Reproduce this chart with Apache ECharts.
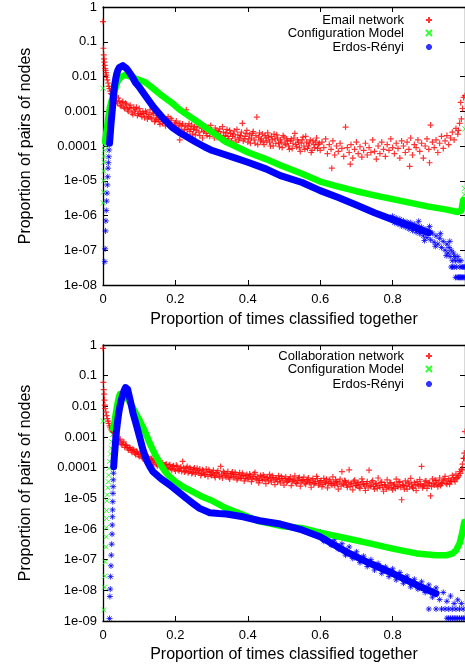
<!DOCTYPE html>
<html><head><meta charset="utf-8">
<script src="https://cdn.jsdelivr.net/npm/echarts/dist/echarts.min.js"></script>
<style>html,body{margin:0;padding:0;background:#fff}#c{width:465px;height:667px}</style>
</head><body><div id="c"></div>
<script>
// ---------- texts / ticks ----------
const xTitle = 'Proportion of times classified together';
const yTitle = 'Proportion of pairs of nodes';
const xTickLabels = ['0','0.2','0.4','0.6','0.8',''];
const yTickLabelsTop = ['1','0.1','0.01','0.001','0.0001','1e-05','1e-06','1e-07','1e-08'];
const yTickLabelsBottom = ['1','0.1','0.01','0.001','0.0001','1e-05','1e-06','1e-07','1e-08','1e-09'];
const legendTop = ['Email network','Configuration Model','Erdos-Rényi'];
const legendBottom = ['Collaboration network','Configuration Model','Erdos-Rényi'];

// ---------- top panel: email network ----------
const emailNet = [[0,3.8e-1],[.001,6.5e-2],[.002,4.2e-2],[.003,3.2e-2],[.004,2.6e-2],[.005,2.1e-2],[.006,1.7e-2],[.007,1.5e-2],[.008,1.3e-2],[.009,1.1e-2],[.010,9.5e-3],[.012,8e-3],[.014,6.5e-3],[.016,5.2e-3],[.018,4.5e-3],[.020,3.8e-3],[.022,3.2e-3],
[.025,3.0e-3],[.030,2.2e-3],[.035,2.6e-3],[.040,1.7e-3],[.045,2.0e-3],[.050,1.4e-3],[.055,1.9e-3],[.060,1.2e-3],[.065,1.6e-3],[.070,1.0e-3],[.075,1.5e-3],[.080,9.0e-4],[.085,1.3e-3],[.090,1.1e-3],[.095,7.5e-4],[.100,1.2e-3],[.105,8.0e-4],[.110,1.0e-3],[.115,6.5e-4],[.120,9.0e-4],[.125,7.0e-4],[.130,1.1e-3],[.135,6.0e-4],[.140,8.5e-4],[.145,5.5e-4],[.150,7.5e-4],[.155,5.0e-4],[.160,8.0e-4],[.165,4.5e-4],[.170,6.5e-4],[.175,5.0e-4],[.180,7.0e-4],[.185,3.8e-4],[.190,5.5e-4],[.195,3.6e-4],[.200,4.6e-4],[.205,2.9e-4],[.210,4.0e-4],[.212,1.5e-4],[.215,2.5e-4],[.220,4.3e-4],[.225,3.0e-4],[.230,1.1e-3],[.235,3.6e-4],[.240,2.6e-4],[.245,4.0e-4],[.250,3.0e-4],[.255,2.1e-4],[.260,3.5e-4],[.262,1.2e-4],[.265,2.5e-4],[.270,3.9e-4],[.275,1.7e-4],[.280,2.9e-4],[.285,2.3e-4],[.290,3.4e-4],[.295,1.9e-4],[.300,2.9e-4],[.305,2.2e-4],[.310,3.3e-4],[.315,1.8e-4],[.320,2.6e-4],[.325,2.0e-4],[.330,3.6e-4],[.335,1.6e-4],[.340,2.4e-4],[.345,1.9e-4],[.350,2.8e-4],[.355,1.4e-4],[.360,2.2e-4],[.365,1.7e-4],[.370,3.0e-4],[.375,1.5e-4],[.380,2.0e-4],[.385,4.5e-4],[.390,1.6e-4],[.395,2.3e-4],[.400,1.3e-4],[.405,2.1e-4],[.410,1.7e-4],[.415,2.6e-4],[.420,1.2e-4],[.425,6.8e-4],[.430,1.8e-4],[.435,1.4e-4],[.440,2.2e-4],[.445,1.1e-4],[.450,1.7e-4],[.455,2.4e-4],[.460,1.3e-4],[.465,1.9e-4],[.470,1.0e-4],[.475,1.6e-4],[.480,2.1e-4],[.485,1.2e-4],[.490,1.5e-4],[.495,9.0e-5],[.500,1.8e-4],[.505,1.1e-4],[.510,1.4e-4],[.515,8.0e-5],[.520,1.6e-4],[.525,1.2e-4],[.530,2.3e-4],[.535,9.5e-5],[.540,1.3e-4],[.545,7.0e-5],[.550,1.5e-4],[.555,1.0e-4],[.560,1.9e-4],[.565,8.5e-5],[.570,1.2e-4],[.575,6.5e-5],[.580,1.4e-4],[.585,9.0e-5],[.590,1.7e-4],[.595,1.1e-4],[.600,7.5e-5],[.605,1.3e-4],[.610,9.0e-5],[.615,1.6e-4],[.620,6.0e-5],[.625,1.1e-4],[.630,8.0e-5],[.632,2.3e-5],[.635,1.4e-4],[.640,5.5e-5],[.645,1.0e-4],[.650,7.0e-5],[.655,1.2e-4],[.660,8.5e-5],[.665,5.0e-5],[.670,3.5e-4],[.675,9.0e-5],[.680,6.5e-5],[.683,3.0e-5],[.685,1.1e-4],[.690,4.5e-5],[.695,8.0e-5],[.700,1.3e-4],[.705,6.0e-5],[.710,9.5e-5],[.715,4.8e-5],[.720,7.5e-5],[.725,1.2e-4],[.730,5.5e-5],[.735,9.0e-5],[.740,6.5e-5],[.745,1.5e-4],[.750,7.0e-5],[.755,4.2e-5],[.760,1.0e-4],[.765,6.0e-5],[.770,1.3e-4],[.775,8.0e-5],[.780,5.0e-5],[.785,1.1e-4],[.790,7.5e-5],[.795,1.6e-4],[.800,9.0e-5],[.805,6.0e-5],[.810,1.2e-4],[.815,8.5e-5],[.820,4.5e-5],[.825,1.4e-4],[.830,1.0e-4],[.835,6.5e-5],[.840,1.3e-4],[.845,8.0e-5],[.847,2.6e-5],[.850,1.7e-4],[.855,5.5e-5],[.860,1.1e-4],[.865,9.0e-5],[.870,1.5e-4],[.875,7.0e-5],[.880,1.2e-4],[.885,4.5e-5],[.890,1.0e-4],[.895,1.6e-4],[.900,8.0e-5],[.902,3.3e-5],[.905,4.0e-4],[.910,1.3e-4],[.915,9.0e-5],[.920,1.5e-4],[.925,6.5e-5],[.930,1.2e-4],[.935,1.9e-4],[.940,8.5e-5],[.945,1.4e-4],[.950,2.0e-4],[.955,1.1e-4],[.960,1.7e-4],[.965,2.5e-4],[.970,1.5e-4],[.975,3.2e-4],[.980,2.2e-4],[.982,2.8e-4],[.985,4.5e-4],[.988,1.8e-3],[.990,6.0e-4],[.993,1.2e-3],[.996,2.5e-3],[1,2.8e-3]];
const emailNet2 = [[.0275,2.0e-3],[.0325,2.9e-3],[.0375,1.9e-3],[.0425,2.4e-3],[.0475,1.5e-3],[.0525,1.8e-3],[.0575,1.3e-3],[.0625,1.7e-3],[.0675,1.1e-3],[.0725,1.3e-3],[.0775,1.2e-3],[.0825,8.0e-4],[.0875,1.0e-3],[.0925,1.3e-3],[.0975,8.5e-4],[.1025,9.5e-4],[.1075,7.0e-4],[.1125,8.5e-4],[.1175,1.0e-3],[.1225,6.0e-4],[.1275,8.0e-4],[.1325,6.5e-4],[.1375,9.0e-4],[.1425,5.0e-4],[.1475,6.5e-4],[.1525,5.8e-4],[.1575,4.2e-4],[.1625,6.0e-4],[.1675,5.2e-4],[.1725,3.8e-4],[.1775,5.8e-4],[.1825,4.6e-4],[.1875,6.2e-4],[.1925,3.4e-4],[.1975,4.0e-4],[.2025,5.2e-4],[.2075,3.3e-4],[.2125,4.5e-4],[.2175,3.7e-4],[.2225,2.4e-4],[.2275,3.9e-4],[.2325,2.9e-4],[.2375,4.4e-4],[.2425,3.1e-4],[.2475,2.2e-4],[.2525,3.6e-4],[.2575,2.8e-4],[.2625,4.3e-4],[.2675,2.0e-4],[.2725,3.2e-4],[.2775,2.6e-4],[.2825,3.7e-4],[.2875,2.0e-4],[.2925,2.7e-4],[.2975,3.9e-4],[.3025,2.4e-4],[.3075,1.7e-4],[.3125,2.8e-4],[.3175,2.2e-4],[.3225,3.1e-4],[.3275,1.5e-4],[.3325,2.5e-4],[.3375,2.0e-4],[.3425,3.0e-4],[.3475,1.6e-4],[.3525,2.3e-4],[.3575,1.9e-4],[.3625,2.7e-4],[.3675,1.3e-4],[.3725,2.1e-4],[.3775,1.7e-4],[.3825,2.5e-4],[.3875,1.4e-4],[.3925,1.9e-4],[.3975,2.8e-4],[.4025,1.6e-4],[.4075,1.2e-4],[.4125,2.3e-4],[.4175,1.5e-4],[.4225,2.0e-4],[.4275,1.1e-4],[.4325,2.4e-4],[.4375,1.6e-4],[.4425,1.3e-4],[.4475,2.0e-4],[.4525,1.4e-4],[.4575,1.8e-4],[.4625,1.0e-4],[.4675,1.5e-4],[.4725,2.2e-4],[.4775,1.2e-4],[.4825,1.7e-4],[.4875,9.5e-5],[.4925,1.3e-4],[.4975,2.0e-4],[.5025,1.2e-4],[.5075,1.6e-4],[.5125,1.0e-4],[.5175,1.4e-4],[.5225,8.5e-5],[.5275,1.7e-4],[.5325,1.1e-4],[.5375,1.5e-4],[.5425,9.0e-5],[.5475,1.2e-4],[.5525,1.8e-4],[.5575,8.0e-5],[.5625,1.3e-4],[.5675,1.0e-4],[.5725,1.5e-4],[.5775,7.5e-5],[.5825,1.1e-4],[.5875,1.3e-4],[.5925,8.5e-5],[.5975,1.2e-4]];

const emailCfgPts = [[0,4.6e-3],[.0005,2.3e-6],[.001,4.7e-6],[.0015,1e-5],[.002,1.9e-5],[.0025,3.4e-5],[.003,5e-5],[.004,7.5e-5],[.005,1.05e-4],[.006,1.35e-4],[.998,4e-6],[.999,6e-6],[1,3.1e-4]];
const emailCfgLine = [[.006,1.35e-4],[.007,1.7e-4],[.008,2e-4],[.009,2.4e-4],[.010,2.8e-4],[.012,4e-4],[.014,6e-4],[.016,8e-4],[.018,1.1e-3],[.020,1.4e-3],[.022,1.7e-3],[.025,2.2e-3],[.028,2.8e-3],[.031,3.6e-3],[.034,4.5e-3],[.037,5.8e-3],[.040,7e-3],[.043,8e-3],[.046,8.9e-3],[.050,9.8e-3],[.055,1.06e-2],[.060,1.1e-2],[.065,1.1e-2],[.070,1.05e-2],[.080,9.5e-3],[.100,7.9e-3],[.117,6.8e-3],[.140,4.4e-3],[.163,2.8e-3],[.190,1.75e-3],[.210,1.15e-3],[.235,7.6e-4],[.256,5.4e-4],[.280,3.6e-4],[.302,2.5e-4],[.340,1.3e-4],[.360,1.05e-4],[.400,6.6e-5],[.450,4.2e-5],[.490,2.8e-5],[.550,1.6e-5],[.600,9.5e-6],[.650,6.8e-6],[.700,5e-6],[.750,3.8e-6],[.800,2.95e-6],[.850,2.3e-6],[.900,1.8e-6],[.950,1.48e-6],[.980,1.26e-6],[.990,1.4e-6],[.995,2.8e-6]];

const emailErPts = [[.005,4.7e-8],[.006,1.1e-7],[.007,3.6e-7],[.008,7e-7],[.009,1.4e-6],[.010,2.6e-6],[.011,4.4e-6],[.012,7.6e-6],[.013,1.3e-5],[.014,2.3e-5],[.015,3.3e-5],[.016,4.9e-5],[.017,7.7e-5],[.018,1.2e-4]];
const emailErLine = [[.018,1.2e-4],[.019,1.6e-4],[.020,2.2e-4],[.021,3e-4],[.022,4.2e-4],[.024,7e-4],[.026,1.2e-3],[.028,2.1e-3],[.030,3.6e-3],[.032,5.5e-3],[.035,8.5e-3],[.038,1.2e-2],[.041,1.5e-2],[.045,1.8e-2],[.050,2e-2],[.055,2.05e-2],[.060,1.95e-2],[.065,1.7e-2],[.070,1.45e-2],[.080,1.02e-2],[.090,6.6e-3],[.100,5e-3],[.117,2.8e-3],[.140,1.3e-3],[.163,6.8e-4],[.190,3.5e-4],[.210,2.5e-4],[.235,1.75e-4],[.256,1.3e-4],[.280,9.5e-5],[.302,7.4e-5],[.340,5.5e-5],[.360,4.7e-5],[.400,3.4e-5],[.450,2.2e-5],[.490,1.4e-5],[.550,8.9e-6],[.600,5.2e-6],[.650,3.3e-6],[.700,2e-6],[.750,1.2e-6],[.800,7.6e-7],[.850,5e-7],[.900,3.2e-7]];
const emailErTail = [[.800,9.5e-7],[.805,6.2e-7],[.810,8.4e-7],[.815,5.6e-7],[.820,7.8e-7],[.825,5.0e-7],[.830,7.0e-7],[.835,4.6e-7],[.840,6.5e-7],[.845,4.1e-7],[.850,6.2e-7],[.855,3.7e-7],[.860,5.6e-7],[.865,3.3e-7],[.870,5.0e-7],[.872,6.8e-7],[.875,3.0e-7],[.880,4.6e-7],[.885,2.6e-7],[.888,1.9e-7],[.890,4.0e-7],[.895,2.3e-7],[.900,3.6e-7],[.902,4.8e-7],[.905,2.0e-7],[.910,3.1e-7],[.915,1.7e-7],[.918,1.3e-7],[.920,2.6e-7],[.925,1.5e-7],[.930,2.2e-7],[.932,3.0e-7],[.935,1.2e-7],[.940,1.8e-7],[.945,1.0e-7],[.948,7e-8],[.950,1.5e-7],[.953,8.3e-8],[.956,1.2e-7],[.958,1.8e-7],[.959,6.6e-8],[.962,1.0e-7],[.965,5e-8],[.968,8.3e-8],[.971,6.6e-8],[.974,5e-8],[.977,3.3e-8],[.980,6.6e-8],[.983,5e-8],[.986,3.3e-8],[.989,5e-8],[.992,3.3e-8],[.995,3.3e-8],[.998,3.3e-8],[.962,3.3e-8],[.966,3.3e-8],[.970,3.3e-8],[.974,1.66e-8],[.978,1.66e-8],[.982,1.66e-8],[.985,1.66e-8],[.988,1.66e-8],[.991,1.66e-8],[.994,1.66e-8],[.997,1.66e-8],[1,1.66e-8],[1,2e-6]];

// ---------- bottom panel: collaboration network ----------
const collabNet = [[0,7.8e-1],[.001,6e-2],[.002,3.5e-2],[.003,2.5e-2],[.004,1.6e-2],[.005,1.1e-2],[.006,8.5e-3],[.008,6.5e-3],[.010,5e-3],[.012,4e-3],[.014,3.3e-3],[.016,2.8e-3],[.018,2.3e-3],[.020,2e-3],[.023,1.7e-3],[.026,1.5e-3],
[.030,1.4e-3],[.035,1.0e-3],[.040,1.0e-3],[.045,7.5e-4],[.050,6.0e-4],[.055,6.5e-4],[.060,4.6e-4],[.065,5.2e-4],[.070,3.8e-4],[.075,4.4e-4],[.080,3.2e-4],[.085,3.8e-4],[.090,2.7e-4],[.095,3.2e-4],[.100,2.3e-4],[.105,2.8e-4],[.110,2.0e-4],[.115,2.5e-4],[.120,1.7e-4],[.125,2.2e-4],[.130,1.5e-4],[.135,1.9e-4],[.140,1.3e-4],[.145,1.7e-4],[.150,1.15e-4],[.155,1.5e-4],[.160,1.05e-4],[.165,1.4e-4],[.170,9.5e-5],[.175,1.3e-4],[.180,9.0e-5],[.185,1.25e-4],[.190,8.5e-5],[.195,1.15e-4],[.200,7.8e-5],[.205,1.1e-4],[.210,8.0e-5],[.215,1.05e-4],[.220,1.6e-4],[.225,7.2e-5],[.230,9.5e-5],[.235,6.8e-5],[.240,1.0e-4],[.245,6.5e-5],[.250,8.8e-5],[.255,6.2e-5],[.260,9.5e-5],[.265,6.8e-5],[.270,5.6e-5],[.275,8.5e-5],[.280,6.0e-5],[.285,9.0e-5],[.290,5.2e-5],[.295,7.5e-5],[.300,5.6e-5],[.305,8.2e-5],[.310,4.8e-5],[.315,7.0e-5],[.320,5.4e-5],[.325,1.1e-4],[.330,4.6e-5],[.335,6.8e-5],[.340,5.0e-5],[.345,7.5e-5],[.350,4.3e-5],[.355,6.4e-5],[.360,4.8e-5],[.365,7.0e-5],[.370,4.0e-5],[.375,5.8e-5],[.380,4.5e-5],[.385,6.6e-5],[.390,3.7e-5],[.395,5.4e-5],[.400,4.2e-5],[.405,6.2e-5],[.410,3.5e-5],[.415,5.0e-5],[.420,7.0e-5],[.425,4.0e-5],[.430,3.2e-5],[.435,5.6e-5],[.440,3.8e-5],[.445,5.2e-5],[.450,3.0e-5],[.455,4.6e-5],[.460,6.0e-5],[.465,3.4e-5],[.470,4.8e-5],[.475,2.8e-5],[.480,4.2e-5],[.485,5.5e-5],[.490,3.2e-5],[.495,4.5e-5],[.500,2.7e-5],[.505,5.0e-5],[.510,3.6e-5],[.515,4.3e-5],[.520,2.6e-5],[.525,3.9e-5],[.530,5.4e-5],[.535,3.0e-5],[.540,4.6e-5],[.545,2.5e-5],[.550,3.8e-5],[.555,4.9e-5],[.560,2.9e-5],[.565,4.1e-5],[.570,3.3e-5],[.575,2.3e-5],[.580,4.4e-5],[.585,3.1e-5],[.590,5.2e-5],[.595,2.7e-5],[.600,3.7e-5],[.605,2.4e-5],[.610,4.5e-5],[.615,3.2e-5],[.620,2.2e-5],[.625,4.0e-5],[.630,3.0e-5],[.635,5.0e-5],[.640,2.6e-5],[.645,3.5e-5],[.650,2.0e-5],[.655,4.2e-5],[.660,7.4e-5],[.665,2.8e-5],[.670,3.6e-5],[.675,2.3e-5],[.680,8.5e-5],[.685,3.1e-5],[.690,1.9e-5],[.695,3.9e-5],[.700,2.6e-5],[.705,3.3e-5],[.710,2.1e-5],[.715,4.3e-5],[.720,2.9e-5],[.725,1.8e-5],[.730,3.5e-5],[.735,8.3e-5],[.740,2.5e-5],[.745,3.8e-5],[.750,2.0e-5],[.755,3.0e-5],[.760,4.6e-5],[.765,2.3e-5],[.770,3.4e-5],[.775,1.7e-5],[.780,2.7e-5],[.785,4.0e-5],[.790,2.2e-5],[.795,3.2e-5],[.800,1.9e-5],[.805,2.9e-5],[.810,4.2e-5],[.815,2.4e-5],[.820,3.5e-5],[.825,9.0e-6],[.830,2.6e-5],[.835,3.7e-5],[.840,2.0e-5],[.845,3.1e-5],[.850,4.5e-5],[.855,2.3e-5],[.860,3.3e-5],[.865,1.8e-5],[.870,2.8e-5],[.875,4.1e-5],[.880,1.1e-4],[.885,2.5e-5],[.890,3.6e-5],[.895,2.1e-5],[.900,3.2e-5],[.905,1.2e-5],[.910,4.3e-5],[.915,2.7e-5],[.920,3.8e-5],[.925,2.4e-5],[.930,4.6e-5],[.935,3.0e-5],[.940,3.9e-5],[.945,5.2e-5],[.950,2.9e-5],[.955,4.4e-5],[.960,3.5e-5],[.965,5.6e-5],[.970,4.0e-5],[.975,6.2e-5],[.980,4.8e-5],[.985,7.5e-5],[.990,9.0e-5],[.993,1.3e-4],[.996,2.0e-4],[.998,3.0e-4],[1,1.5e-3]];
const collabNet2 = [[.0325,1.1e-3],[.0375,1.2e-3],[.0425,8.0e-4],[.0475,8.5e-4],[.0525,5.6e-4],[.0575,7.0e-4],[.0625,5.5e-4],[.0675,4.4e-4],[.0725,4.6e-4],[.0775,3.6e-4],[.0825,4.0e-4],[.0875,3.0e-4],[.0925,3.4e-4],[.0975,2.6e-4],[.1025,3.0e-4],[.1075,2.2e-4],[.1125,2.6e-4],[.1175,2.0e-4],[.1225,2.3e-4],[.1275,1.7e-4],[.1325,2.0e-4],[.1375,1.5e-4],[.1425,1.8e-4],[.1475,1.3e-4],[.1525,1.6e-4],[.1575,1.2e-4],[.1625,1.45e-4],[.1675,1.05e-4],[.1725,1.25e-4],[.1775,1.0e-4],[.1825,1.2e-4],[.1875,9.5e-5],[.1925,1.1e-4],[.1975,9.0e-5],[.2025,1.2e-4],[.2075,8.5e-5],[.2125,9.5e-5],[.2175,7.5e-5],[.2225,1.0e-4],[.2275,8.0e-5],[.2325,1.1e-4],[.2375,7.5e-5],[.2425,9.0e-5],[.2475,7.0e-5],[.2525,9.8e-5],[.2575,7.2e-5],[.2625,8.0e-5],[.2675,9.0e-5],[.2725,6.4e-5],[.2775,7.8e-5],[.2825,5.8e-5],[.2875,7.0e-5],[.2925,8.5e-5],[.2975,6.0e-5],[.3025,7.0e-5],[.3075,5.4e-5],[.3125,6.4e-5],[.3175,8.0e-5],[.3225,5.0e-5],[.3275,6.2e-5],[.3325,7.5e-5],[.3375,5.6e-5],[.3425,6.5e-5],[.3475,4.8e-5],[.3525,5.8e-5],[.3575,7.2e-5],[.3625,5.2e-5],[.3675,6.0e-5],[.3725,4.5e-5],[.3775,6.8e-5],[.3825,5.0e-5],[.3875,5.6e-5],[.3925,4.4e-5],[.3975,6.0e-5],[.4025,4.7e-5],[.4075,5.4e-5],[.4125,4.3e-5],[.4175,6.2e-5],[.4225,4.5e-5],[.4275,5.1e-5],[.4325,3.9e-5],[.4375,4.6e-5],[.4425,5.8e-5],[.4475,4.1e-5],[.4525,4.8e-5],[.4575,3.7e-5],[.4625,4.4e-5],[.4675,5.5e-5],[.4725,3.9e-5],[.4775,4.6e-5],[.4825,3.5e-5],[.4875,4.2e-5],[.4925,5.2e-5],[.4975,3.7e-5],[.5025,4.4e-5],[.5075,3.3e-5],[.5125,4.0e-5],[.5175,5.0e-5],[.5225,3.5e-5],[.5275,4.2e-5],[.5325,3.2e-5],[.5375,3.8e-5],[.5425,4.8e-5],[.5475,3.4e-5],[.5525,4.1e-5],[.5575,3.1e-5],[.5625,3.6e-5],[.5675,4.6e-5],[.5725,3.2e-5],[.5775,3.9e-5],[.5825,2.9e-5],[.5875,3.5e-5],[.5925,4.4e-5],[.5975,3.1e-5],[.6025,3.8e-5],[.6075,2.8e-5],[.6125,3.4e-5],[.6175,4.2e-5],[.6225,3.0e-5],[.6275,3.6e-5],[.6325,2.7e-5],[.6375,3.2e-5],[.6425,4.0e-5],[.6475,2.9e-5],[.6525,3.4e-5],[.6575,2.5e-5],[.6625,3.1e-5],[.6675,3.8e-5],[.6725,2.7e-5],[.6775,3.3e-5],[.6825,2.4e-5],[.6875,2.9e-5],[.6925,3.6e-5],[.6975,2.6e-5],[.7025,3.1e-5],[.7075,2.3e-5],[.7125,2.8e-5],[.7175,3.5e-5],[.7225,2.5e-5],[.7275,3.0e-5],[.7325,2.2e-5],[.7375,2.7e-5],[.7425,3.4e-5],[.7475,2.4e-5],[.7525,2.9e-5],[.7575,2.1e-5],[.7625,2.6e-5],[.7675,3.3e-5],[.7725,2.3e-5],[.7775,2.8e-5],[.7825,2.0e-5],[.7875,2.5e-5],[.7925,3.2e-5],[.7975,2.2e-5],[.8025,2.7e-5],[.8075,2.1e-5],[.8125,2.5e-5],[.8175,3.3e-5],[.8225,2.3e-5],[.8275,2.8e-5],[.8325,2.0e-5],[.8375,2.6e-5],[.8425,3.4e-5],[.8475,2.4e-5],[.8525,2.9e-5],[.8575,2.1e-5],[.8625,2.7e-5],[.8675,3.5e-5],[.8725,2.5e-5],[.8775,3.0e-5],[.8825,2.2e-5],[.8875,2.8e-5],[.8925,3.7e-5],[.8975,2.6e-5],[.9025,3.2e-5],[.9075,2.4e-5],[.9125,3.0e-5],[.9175,3.9e-5],[.9225,2.8e-5],[.9275,3.4e-5],[.9325,2.6e-5],[.9375,3.2e-5],[.9425,4.2e-5],[.9475,3.1e-5],[.9525,3.7e-5],[.9575,2.9e-5],[.9625,3.6e-5],[.9675,4.7e-5],[.9725,3.5e-5],[.9775,4.4e-5],[.9825,5.5e-5],[.9875,6.5e-5],[.9925,8.5e-5],[.9975,2.0e-4]];

const collabCfgPts = [[0,3.3e-3],[.002,2.3e-9],[.004,1.26e-8],[.005,2.9e-8],[.0065,8.5e-8],[.0075,2.6e-7],[.0085,5.6e-7],[.009,1.1e-6],[.0095,2.2e-6],[.010,4e-6],[.011,8.3e-6],[.012,1.3e-5],[.013,2.2e-5],[.0145,3.5e-5],[.0155,5.7e-5],[.0165,9.5e-5],[.0185,1.6e-4],[.021,2.8e-4],[.023,4.3e-4],[.024,7e-4],[.0265,1.2e-3],[.028,1.9e-3],[1,1.7e-6]];
const collabCfgLine = [[.028,1.9e-3],[.032,3.2e-3],[.035,5.5e-3],[.038,9e-3],[.041,1.4e-2],[.044,2e-2],[.047,2.5e-2],[.050,2.6e-2],[.056,2.4e-2],[.065,1.9e-2],[.074,1.4e-2],[.085,7.9e-3],[.101,3.5e-3],[.115,1.6e-3],[.129,6.3e-4],[.143,2.8e-4],[.157,1.4e-4],[.170,7.9e-5],[.184,5.1e-5],[.200,3.5e-5],[.221,2.4e-5],[.250,1.6e-5],[.276,1.1e-5],[.300,8.5e-6],[.341,4.7e-6],[.387,2.9e-6],[.430,1.8e-6],[.490,1.26e-6],[.553,1.05e-6],[.600,7.6e-7],[.672,5e-7],[.737,3.4e-7],[.800,2.3e-7],[.866,1.6e-7],[.920,1.4e-7],[.950,1.4e-7],[.966,1.6e-7],[.975,2e-7],[.985,3.4e-7],[.990,5.6e-7],[.994,9.3e-7],[.998,1.7e-6]];

const collabErPts = [[.018,1.2e-9],[.019,6.3e-9],[.020,1.1e-8],[.021,2.8e-8],[.022,6.3e-8],[.023,1.4e-7],[.024,3.2e-7],[.025,6.8e-7],[.0255,1.35e-6],[.026,2.5e-6],[.0265,4.2e-6],[.027,7.8e-6],[.0275,1.45e-5],[.028,2.4e-5],[.0285,4e-5],[.029,6.6e-5],[.0295,1.07e-4]];
const collabErLine = [[.0295,1.07e-4],[.031,2e-4],[.033,4e-4],[.035,8e-4],[.037,1.5e-3],[.040,3e-3],[.043,5.5e-3],[.046,9e-3],[.050,1.5e-2],[.054,2.3e-2],[.058,3.2e-2],[.062,4.1e-2],[.065,4.4e-2],[.068,3.6e-2],[.075,1.6e-2],[.083,5.9e-3],[.092,2.5e-3],[.101,1.02e-3],[.110,4e-4],[.120,1.8e-4],[.130,1.05e-4],[.138,7.4e-5],[.160,4.4e-5],[.184,2.75e-5],[.207,1.66e-5],[.230,1e-5],[.250,6.6e-6],[.267,4.7e-6],[.295,3.4e-6],[.320,3.2e-6],[.341,3.1e-6],[.387,2.5e-6],[.433,1.86e-6],[.490,1.45e-6],[.550,9.3e-7],[.600,5.6e-7],[.636,3.2e-7],[.672,1.8e-7],[.737,7.6e-8],[.800,3.6e-8],[.866,1.5e-8],[.920,7.9e-9]];
const collabErTail = [[.600,8e-7],[.610,4e-7],[.620,6.5e-7],[.630,3e-7],[.640,4.5e-7],[.650,2.2e-7],[.660,3.3e-7],[.670,1.4e-7],[.680,2.6e-7],[.690,1.1e-7],[.700,1.8e-7],[.710,8e-8],[.720,1.3e-7],[.730,6e-8],[.740,1.0e-7],[.750,4.6e-8],[.760,7.5e-8],[.770,3.6e-8],[.780,5.8e-8],[.790,2.8e-8],[.800,5e-8],[.810,2.2e-8],[.820,3.8e-8],[.830,1.7e-8],[.840,2.9e-8],[.850,1.3e-8],[.860,2.3e-8],[.870,1.1e-8],[.880,1.9e-8],[.890,8.5e-9],[.900,1.5e-8],[.910,6e-9],[.920,1.2e-8],[.930,5e-9],[.940,8.5e-9],[.950,4.4e-9],[.960,6.5e-9],[.970,3.7e-9],[.980,4.9e-9],[.990,3.7e-9],[.900,2.46e-9],[.920,2.46e-9],[.935,2.46e-9],[.945,2.46e-9],[.955,2.46e-9],[.965,2.46e-9],[.975,2.46e-9],[.985,2.46e-9],[.995,2.46e-9],[.950,1.23e-9],[.955,1.23e-9],[.960,1.23e-9],[.965,1.23e-9],[.970,1.23e-9],[.975,1.23e-9],[.980,1.23e-9],[.985,1.23e-9],[.990,1.23e-9],[.995,1.23e-9],[1,1.23e-9],[1,1.5e-6]];

// ---------- styles ----------
const RED = '#ff0000', GREEN = '#00ff00', BLUE = '#0000ff';
const FONT = 'Liberation Sans';
const plusSym = 'path://M0,5L10,5M5,0L5,10';
const crossSym = 'path://M0,0L10,10M10,0L0,10';
const starSym = 'path://M0,5L10,5M5,0L5,10M1.5,1.5L8.5,8.5M8.5,1.5L1.5,8.5';

const grids = [
  {left:103, right:0, top:7, height:278, outerBoundsMode:'none', containLabel:false},
  {left:103, right:0, top:345, height:276, outerBoundsMode:'none', containLabel:false}
];
const axLine = {show:true, onZero:false, lineStyle:{color:'#000', width:1.3}};
const axTick = {show:true, inside:true, length:5, lineStyle:{color:'#000', width:1}};
function xMain(gi, gap){
  return {type:'value', gridIndex:gi, min:0, max:1, interval:0.2, position:'bottom',
    axisLine:axLine, axisTick:axTick, splitLine:{show:false},
    axisLabel:{show:true, margin:8, color:'#000', fontSize:13, fontFamily:FONT, showMaxLabel:true,
      formatter:function(v){return xTickLabels[Math.round(v/0.2)];}},
    name:xTitle, nameLocation:'middle', nameGap:gap,
    nameTextStyle:{color:'#000', fontSize:16, fontFamily:FONT}};
}
function xMirror(gi){
  return {type:'value', gridIndex:gi, min:0, max:1, interval:0.2, position:'top',
    axisLine:axLine, axisTick:axTick, splitLine:{show:false}, axisLabel:{show:false}};
}
function yMain(gi, minV, n, labels){
  return {type:'log', logBase:10, gridIndex:gi, min:minV, max:1, splitNumber:n, position:'left',
    axisLine:axLine, axisTick:axTick, splitLine:{show:false}, minorTick:{show:false},
    axisLabel:{show:true, margin:6, color:'#000', fontSize:13, fontFamily:FONT,
      formatter:function(v){return labels[Math.round(-Math.log10(v))];}},
    name:yTitle, nameLocation:'middle', nameGap:69, nameRotate:90,
    nameTextStyle:{color:'#000', fontSize:16, fontFamily:FONT}};
}
function yMirror(gi, minV, n){
  return {type:'log', logBase:10, gridIndex:gi, min:minV, max:1, splitNumber:n, position:'right',
    axisLine:axLine, axisTick:axTick, splitLine:{show:false}, axisLabel:{show:false}};
}
function pts(name, data, ai, sym, col, size, bw){
  return {type:'scatter', name:name, data:data, xAxisIndex:ai, yAxisIndex:ai, symbol:sym, symbolSize:size,
    itemStyle:{color:col, borderColor:col, borderWidth:bw || 1}, silent:true, animation:false};
}
function band(name, data, ai, col, w){
  return {type:'line', name:name, data:data, xAxisIndex:ai, yAxisIndex:ai, showSymbol:false, symbol:'none',
    lineStyle:{color:col, width:w, join:'round', cap:'round'}, silent:true, animation:false};
}
function leg(name, icon, top){
  return {show:true, orient:'vertical', right:32, top:top, padding:0, itemWidth:6, itemHeight:6,
    align:'right', selectedMode:false, data:[{name:name, icon:icon}],
    textStyle:{color:'#000', fontSize:13, fontFamily:FONT, padding:[0,17,0,0]}};
}

const option = {
  backgroundColor:'#fff',
  animation:false,
  grid:grids,
  xAxis:[xMain(0,27), xMain(1,26), xMirror(0), xMirror(1)],
  yAxis:[yMain(0,1e-8,8,yTickLabelsTop), yMain(1,1e-9,9,yTickLabelsBottom), yMirror(0,1e-8,8), yMirror(1,1e-9,9)],
  legend:[
    leg(legendTop[0], plusSym, 13.5), leg(legendTop[1], crossSym, 26.5), leg(legendTop[2], starSym, 40.5),
    leg(legendBottom[0], plusSym, 349.5), leg(legendBottom[1], crossSym, 362.5), leg(legendBottom[2], starSym, 377.5)
  ],
  series:[
    pts(legendTop[0], emailNet.concat(emailNet2), 0, plusSym, RED, 6, 1.2),
    pts(legendTop[1], emailCfgPts, 0, crossSym, GREEN, 5),
    band('cfgBandTop', emailCfgLine, 0, GREEN, 6.5),
    pts(legendTop[2], emailErPts, 0, starSym, BLUE, 6),
    band('erBandTop', emailErLine, 0, BLUE, 7),
    pts('erTailTop', emailErTail, 0, starSym, BLUE, 6),
    pts(legendBottom[0], collabNet.concat(collabNet2), 1, plusSym, RED, 6, 1.2),
    pts('cfgPtsBottom', collabCfgPts, 1, crossSym, GREEN, 5),
    band('cfgBandBottom', collabCfgLine, 1, GREEN, 6.5),
    pts('erPtsBottom', collabErPts, 1, starSym, BLUE, 6),
    band('erBandBottom', collabErLine, 1, BLUE, 7),
    pts('erTailBottom', collabErTail, 1, starSym, BLUE, 6)
  ]
};
const chart = echarts.init(document.getElementById('c'), null, {renderer:'canvas'});
chart.setOption(option);
</script>
</body></html>
